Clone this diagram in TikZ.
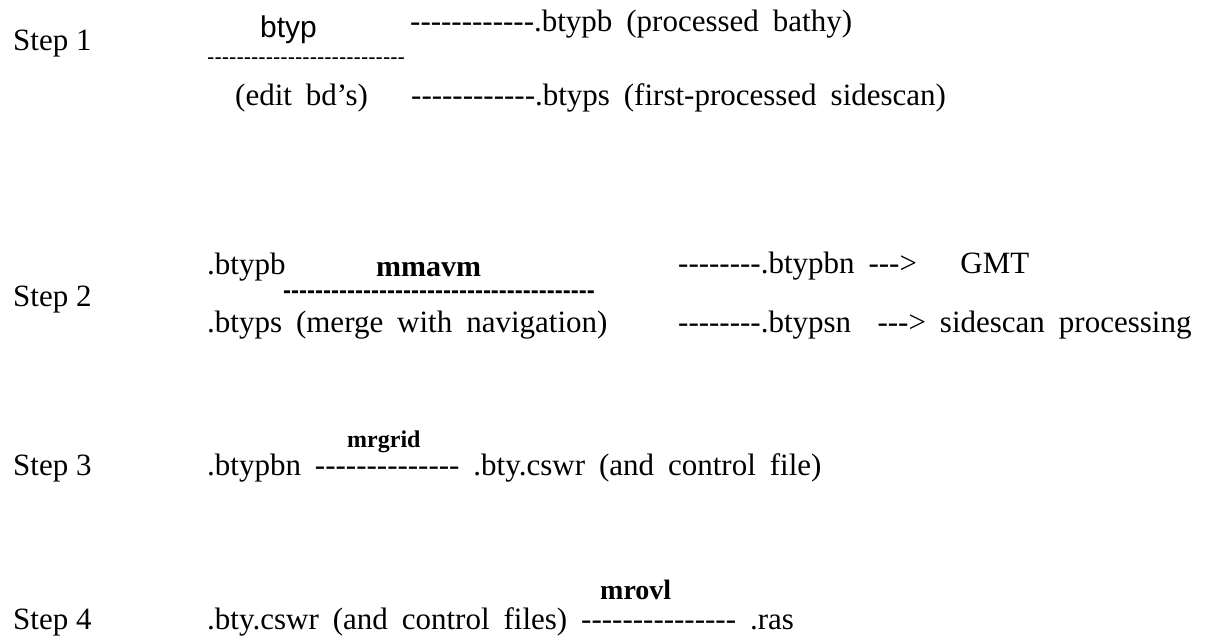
\documentclass[tikz,border=0pt]{standalone}
\usepackage{fontspec}
\setmainfont{Liberation Serif}
\setsansfont{Liberation Sans}
% hyphens one by one, so that -- and --- stay plain hyphens
\newcommand\dashrun[1]{\foreach\k in {1,...,#1}{-\kern0pt}}
% the wide word spaces of the justified lines
\newcommand\widesp{\spaceskip0.45em\relax}

\begin{document}
\begin{tikzpicture}[x=1pt,y=-1pt,
  txt/.style={anchor=base west,inner sep=0pt,font=\fontsize{31}{36}\selectfont\widesp},
  steplabel/.style={anchor=base west,inner sep=0pt,font=\fontsize{31}{36}\selectfont},
  prog/.style={anchor=base west,inner sep=0pt,font=\fontsize{#1}{#1}\selectfont\bfseries},
  tool/.style={anchor=base west,inner sep=0pt,font=\fontsize{30}{36}\selectfont\sffamily},
  rule/.style={anchor=base west,inner sep=0pt,font=\fontsize{#1}{#1}\selectfont\sffamily\bfseries},
  thinrule/.style={anchor=base west,inner sep=0pt,font=\fontsize{#1}{#1}\selectfont\sffamily}]
  \useasboundingbox (0,0) rectangle (1213,642);
  %%%%% STEP 1 %%%%%
  \node[steplabel] (step1) at (13,51) {Step 1};
  \node[tool] (btyp) at (260,38) {btyp};
  \node[txt] (btypb) at (410,32) {\dashrun{12}.btypb (processed bathy)};
  \node[thinrule=22] (line1) at (207,64) {\dashrun{27}};
  \node[txt] (edit) at (235,106) {(edit bd’s)};
  \node[txt] (btyps) at (411,106) {\dashrun{12}.btyps (first-processed sidescan)};
  %%%%% STEP 2 %%%%%
  \node[steplabel] (step2) at (13,306) {Step 2};
  \node[txt] (inb) at (207,274) {.btypb};
  \node[prog=30] (mmavm) at (376,276) {mmavm};
  \node[txt] (btypbn) at (678,273) {\dashrun{8}.btypbn \dashrun{3}>\hskip1.4em GMT};
  \node[rule=24] (line2) at (283,298) {\dashrun{39}};
  \node[txt] (ins) at (207,332) {.btyps (merge with navigation)};
  \node[txt] (btypsn) at (678,332) {\dashrun{8}.btypsn\hskip0.85em\dashrun{3}> sidescan processing};
  %%%%% STEP 3 %%%%%
  \node[prog=24] (mrgrid) at (347,447) {mrgrid};
  \node[steplabel] (step3) at (13,475) {Step 3};
  \node[txt] (cswr) at (207,475) {.btypbn \dashrun{14} .bty.cswr (and control file)};
  %%%%% STEP 4 %%%%%
  \node[prog=28] (mrovl) at (600,599) {mrovl};
  \node[steplabel] (step4) at (13,629) {Step 4};
  \node[txt] (ras) at (207,629) {.bty.cswr (and control files) \dashrun{15} .ras};
\end{tikzpicture}
\end{document}
